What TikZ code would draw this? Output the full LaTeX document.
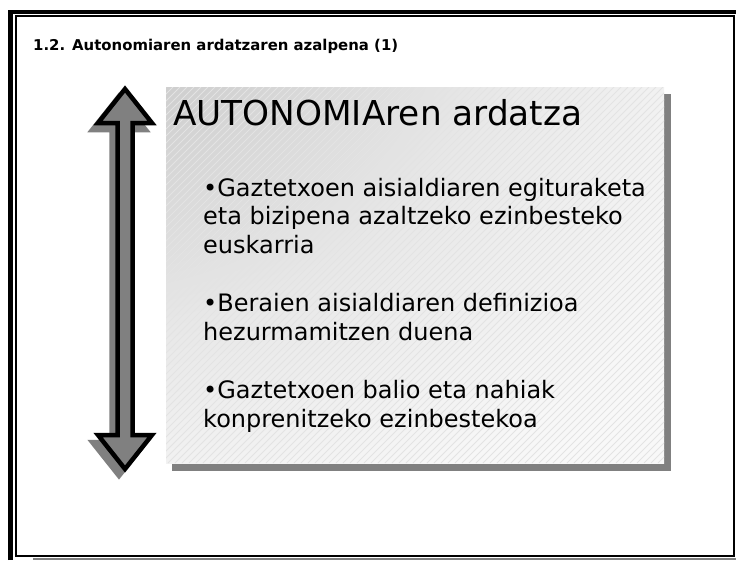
\documentclass[tikz,border=0pt]{standalone}
\usepackage{fontspec}
\setmainfont{DejaVu Sans}
\usepackage{tikz}
\usetikzlibrary{positioning,calc}
\pgfdeclareradialshading{boxglow}{\pgfpoint{-50bp}{50bp}}{color(0bp)=(gray!56); color(20bp)=(gray!42); color(44bp)=(white!91!black); color(64bp)=(white!97!black); color(150bp)=(white)}
\tikzset{
  slidetitle/.style={font=\bfseries\fontsize{14.9}{18}\selectfont, anchor=base west, inner sep=0pt},
  slidehead/.style={font=\fontsize{34.3}{40}\selectfont, anchor=base west, inner sep=0pt},
  slideitem/.style={font=\fontsize{24}{28.2}\selectfont, align=left, anchor=base west, inner sep=0pt},
  slideshadow/.style={fill=gray, draw=gray},
  slidebox/.style={shading=boxglow},
  slidehatch/.style={white!78!gray, line width=0.8pt},
  axisarrow/.style={fill=gray, draw=black, line width=4.5pt, line join=miter},
}

\begin{document}
\begin{tikzpicture}[x=1pt,y=-1pt]
  \useasboundingbox (0,0) rectangle (736,560);
  % Page frame
    \draw[line width=4.5pt] (10.5,560) -- (10.5,12) -- (736,12);
    \draw[line width=2pt] (15.7,16) rectangle (734,556);
    \draw[gray, line width=2.5pt] (33,559) -- (736,559);

  \node[slidetitle] (title) at (33,50) {1.2. Autonomiaren ardatzaren azalpena (1)};

  % Text box with shadow and hatching
    \fill[slideshadow] (172,94) rectangle (670,470);
    \shade[slidebox] (166,87) rectangle (664,463);
    \begin{scope}
      \clip (166,87) rectangle (664,463);
      \foreach \k in {-210,-203,...,664}
        \draw[slidehatch] (\k,463) -- ++(376,-376);
    \end{scope}

  % Double arrow of the axis
    \draw[slideshadow, line width=4.5pt, shift={(-6,7)}]
      (125,89) -- (152,123) -- (132.5,123) -- (132.5,435) -- (152,435) --
      (125,469) -- (98,435) -- (117.5,435) -- (117.5,123) -- (98,123) -- cycle;
    \draw[axisarrow]
      (125,89) -- (152,123) -- (132.5,123) -- (132.5,435) -- (152,435) --
      (125,469) -- (98,435) -- (117.5,435) -- (117.5,123) -- (98,123) -- cycle;

  \node[slidehead] (head) at (173,125) {AUTONOMIAren ardatza};
  % items: base anchor sits on the last line
  \node[slideitem] (itemA) at (203,253)
    {•Gaztetxoen aisialdiaren egituraketa\\eta bizipena azaltzeko ezinbesteko\\euskarria};
  \node[slideitem] (itemB) at (203,340)
    {•Beraien aisialdiaren definizioa\\hezurmamitzen duena};
  \node[slideitem] (itemC) at (203,427)
    {•Gaztetxoen balio eta nahiak\\konprenitzeko ezinbestekoa};
\end{tikzpicture}
\end{document}
